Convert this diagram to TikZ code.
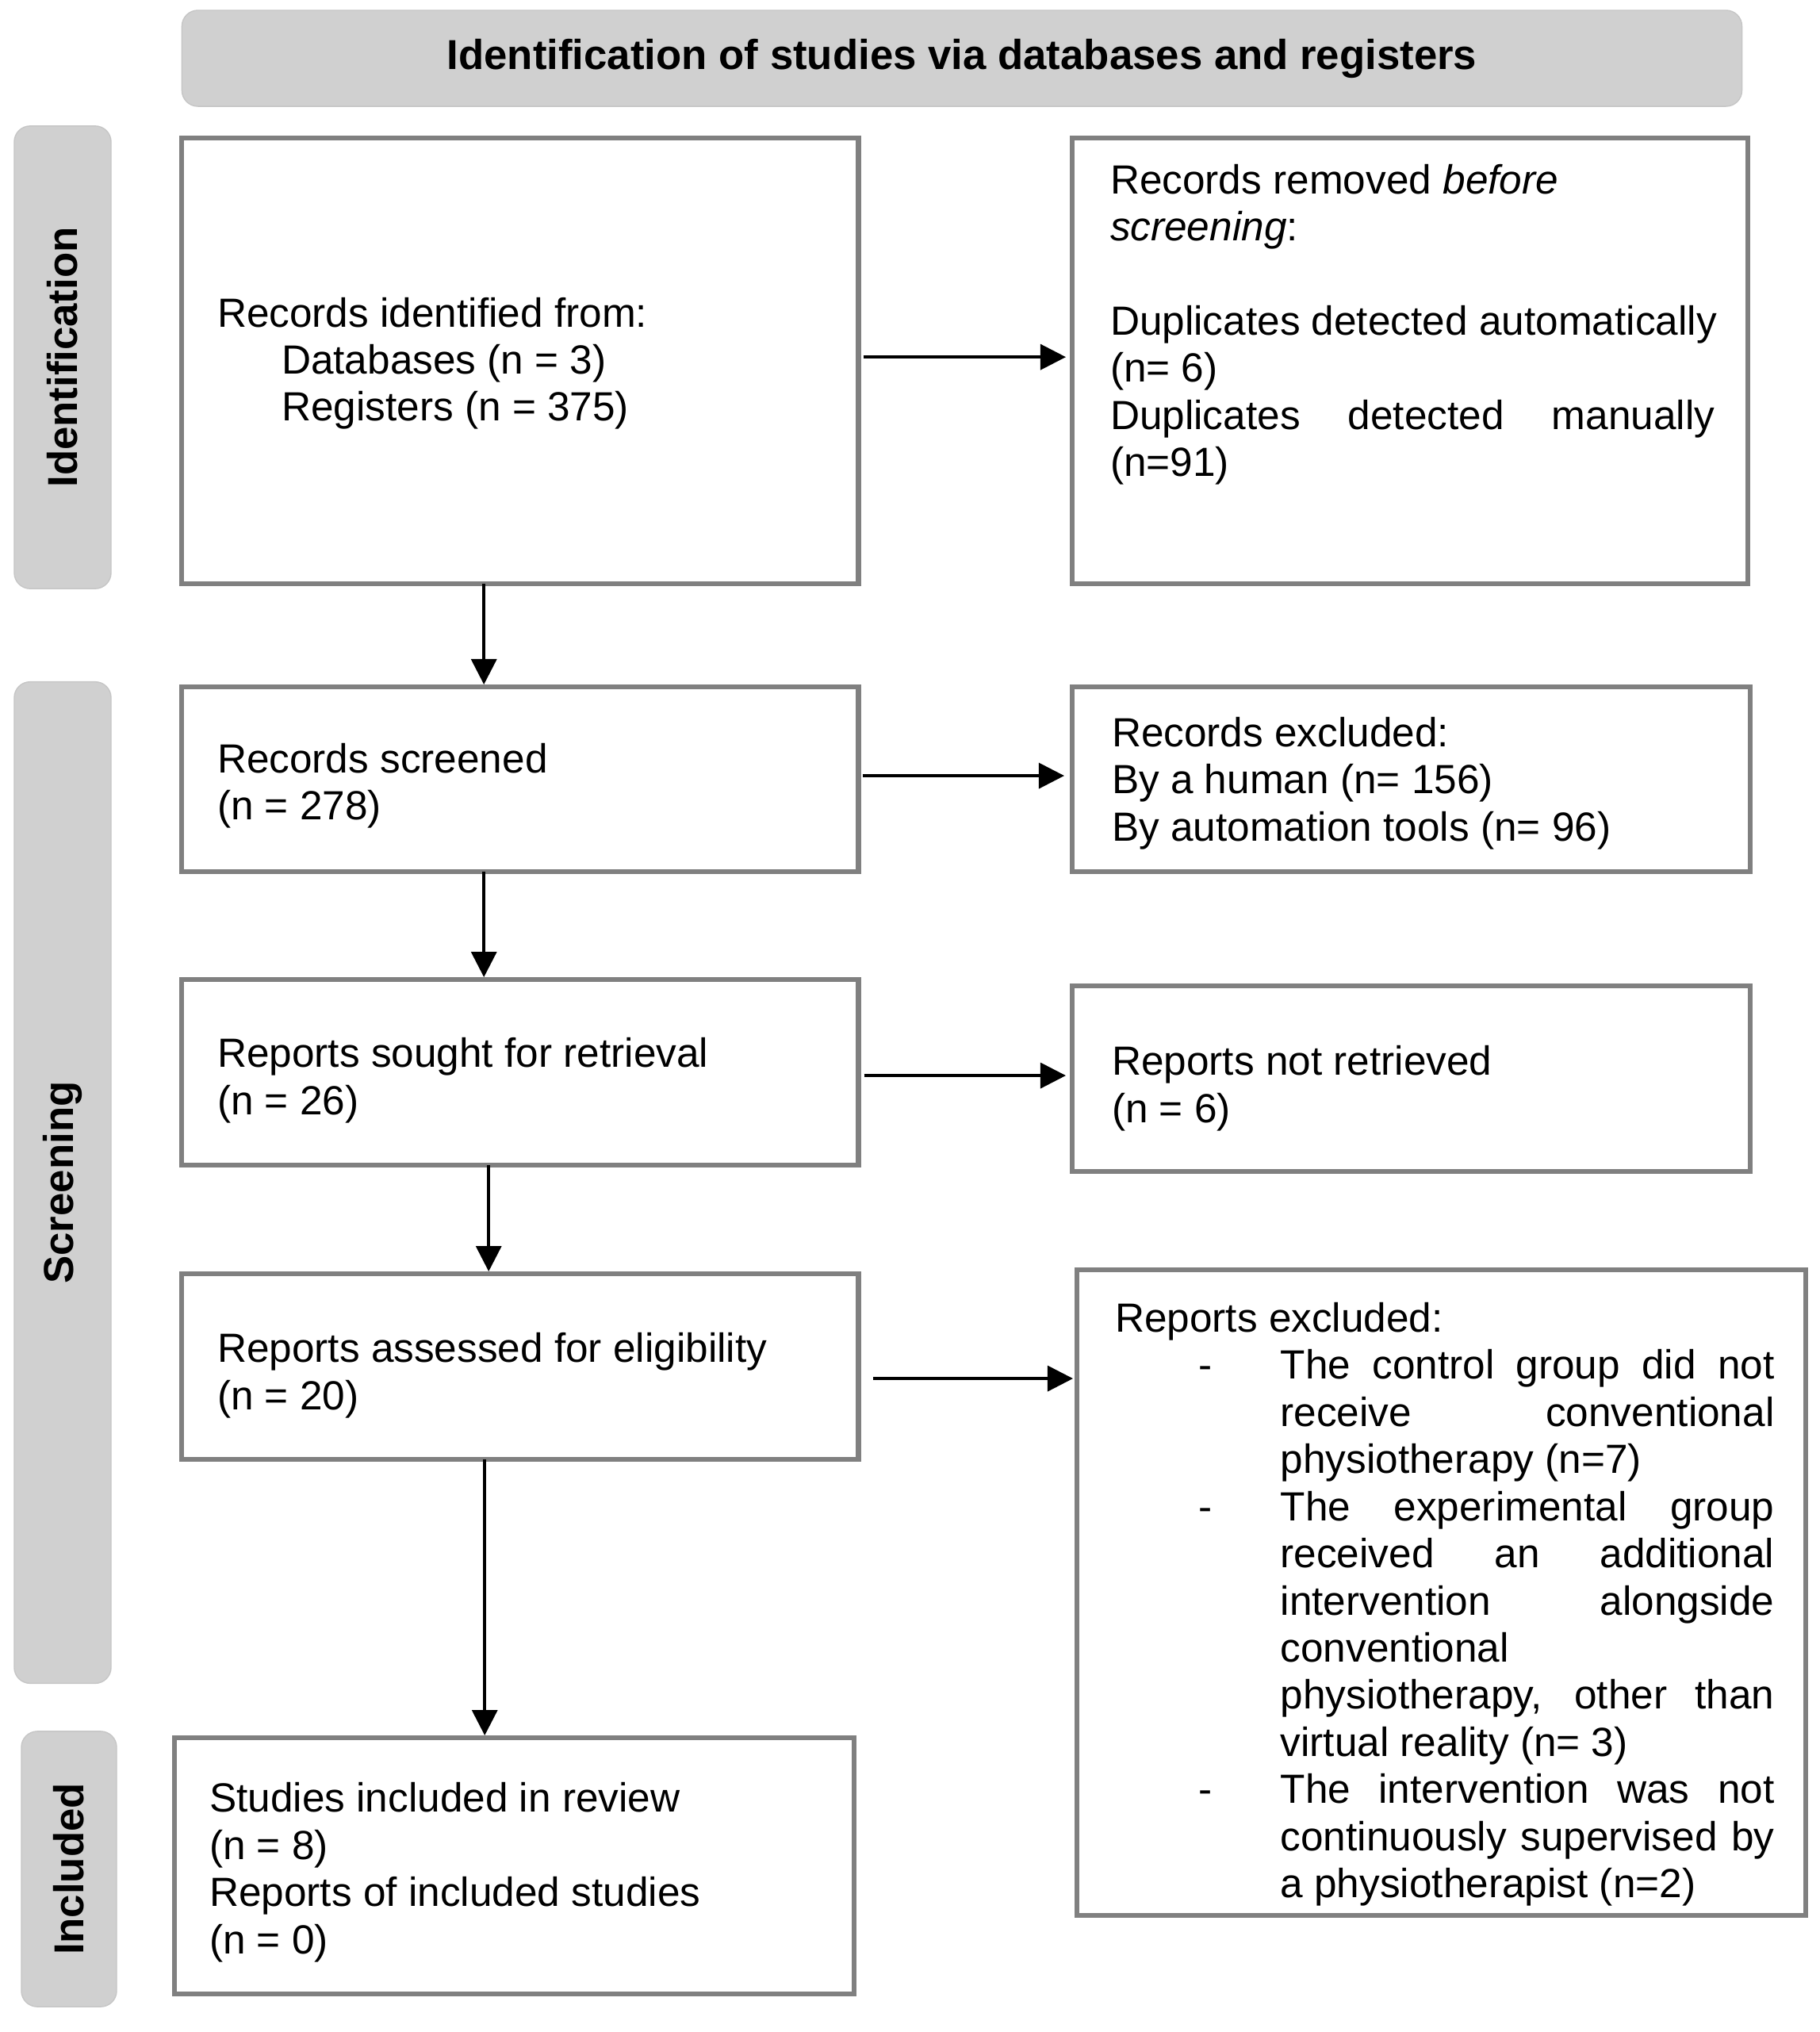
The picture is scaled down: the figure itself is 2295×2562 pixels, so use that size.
\documentclass[tikz,border=0pt]{standalone}
\usepackage{fontspec}
\setmainfont{Liberation Sans}
\usetikzlibrary{arrows.meta,calc}
\definecolor{barfill}{RGB}{208,208,208}
\definecolor{barline}{RGB}{198,198,198}
\definecolor{boxline}{RGB}{128,128,128}
\newcommand\rsp{\spaceskip=0pt\relax\xspaceskip=0pt\relax}
\newcommand\jl[2]{\makebox[#1][s]{\rsp #2}}
\begin{document}
\begin{tikzpicture}[x=0.01cm,y=-0.01cm,
  bar/.style={fill=barfill, draw=barline, line width=0.4pt, rounded corners=0.2cm, inner sep=0pt, outer sep=0pt},
  barlabel/.style={font=\fontsize{15}{18}\selectfont\bfseries},
  flowbox/.style={draw=boxline, line width=0.06cm, rectangle, inner sep=0pt, outer sep=0pt, anchor=north west},
  txt/.style={inner sep=0pt, outer sep=0pt, align=left, text width=8.1cm, font=\fontsize{14.6}{16.9}\selectfont},
  arr/.style={-{Triangle[length=0.32cm,width=0.32cm]}, line width=0.035cm, black},
]
\useasboundingbox (0,0) rectangle (2295,2562);

% grey bars
\node[bar, barlabel, minimum width=19.66cm, minimum height=1.21cm] (title) at (1213,73.5) {Identification of studies via databases and registers};
\node[bar, barlabel, rotate=90, minimum width=5.83cm, minimum height=1.22cm] (idbar) at (79,450.5) {Identification};
\node[bar, barlabel, rotate=90, minimum width=12.62cm, minimum height=1.22cm] (scbar) at (79,1491) {Screening};
\node[bar, barlabel, rotate=90, minimum width=3.47cm, minimum height=1.20cm] (inbar) at (87,2356.5) {Included};

% boxes
\node[flowbox, minimum width=8.53cm, minimum height=5.62cm] (b1) at (229,174) {};
\node[flowbox, minimum width=8.51cm, minimum height=5.62cm] (b2) at (1352,174) {};
\node[flowbox, minimum width=8.53cm, minimum height=2.33cm] (b3) at (229,866) {};
\node[flowbox, minimum width=8.54cm, minimum height=2.33cm] (b4) at (1352,866) {};
\node[flowbox, minimum width=8.53cm, minimum height=2.34cm] (b5) at (229,1235) {};
\node[flowbox, minimum width=8.54cm, minimum height=2.34cm] (b6) at (1352,1243) {};
\node[flowbox, minimum width=8.53cm, minimum height=2.34cm] (b7) at (229,1606) {};
\node[flowbox, minimum width=9.18cm, minimum height=8.13cm] (b8) at (1358,1601) {};
\node[flowbox, minimum width=8.56cm, minimum height=3.23cm] (b9) at (220,2191) {};

% texts
\node[txt, anchor=west] (t1) at ([xshift=0.45cm,yshift=-0.03cm]b1.west)
  {\rsp Records identified from:\\ \hspace*{0.81cm}Databases (n = 3)\\ \hspace*{0.81cm}Registers (n = 375)};
\node[txt, anchor=north west] (t2) at (1400,207)
  {\rsp Records removed \textit{before}\\ \textit{screening}:\\[16.9pt]
   Duplicates detected automatically\\ (n= 6)\\
   \jl{7.62cm}{Duplicates detected manually}\\ (n=91)};
\node[txt, anchor=west] (t3) at ([xshift=0.45cm,yshift=-0.08cm]b3.west)
  {\rsp Records screened\\(n = 278)};
\node[txt, anchor=west] (t4) at ([xshift=0.50cm,yshift=-0.05cm]b4.west)
  {\rsp Records excluded:\\By a human (n= 156)\\By automation tools (n= 96)};
\node[txt, anchor=west] (t5) at ([xshift=0.45cm,yshift=-0.10cm]b5.west)
  {\rsp Reports sought for retrieval\\(n = 26)};
\node[txt, anchor=west] (t6) at ([xshift=0.50cm,yshift=-0.12cm]b6.west)
  {\rsp Reports not retrieved\\(n = 6)};
\node[txt, anchor=west] (t7) at ([xshift=0.45cm,yshift=-0.11cm]b7.west)
  {\rsp Reports assessed for eligibility\\(n = 20)};
\node[txt, anchor=west, text width=8.5cm] (t8) at ([xshift=0.48cm,yshift=-0.15cm]b8.west)
  {\rsp Reports excluded:\\
   \hspace*{1.05cm}\makebox[1.035cm][l]{-}\jl{6.225cm}{The control group did not}\\
   \hspace*{2.085cm}\jl{6.225cm}{receive conventional}\\
   \hspace*{2.085cm}physiotherapy (n=7)\\
   \hspace*{1.05cm}\makebox[1.035cm][l]{-}\jl{6.225cm}{The experimental group}\\
   \hspace*{2.085cm}\jl{6.225cm}{received an additional}\\
   \hspace*{2.085cm}\jl{6.225cm}{intervention alongside}\\
   \hspace*{2.085cm}conventional\\
   \hspace*{2.085cm}\jl{6.225cm}{physiotherapy, other than}\\
   \hspace*{2.085cm}virtual reality (n= 3)\\
   \hspace*{1.05cm}\makebox[1.035cm][l]{-}\jl{6.225cm}{The intervention was not}\\
   \hspace*{2.085cm}\jl{6.225cm}{continuously supervised by}\\
   \hspace*{2.085cm}a physiotherapist (n=2)};
\node[txt, anchor=west] (t9) at ([xshift=0.44cm,yshift=-0.08cm]b9.west)
  {\rsp Studies included in review\\(n = 8)\\Reports of included studies\\(n = 0)};

% vertical arrows
\draw[arr, shorten >=0.03cm] ([xshift=-0.455cm]b1.south) -- ([xshift=-0.455cm]b3.north);
\draw[arr, shorten >=0.03cm] ([xshift=-0.455cm]b3.south) -- ([xshift=-0.455cm]b5.north);
\draw[arr, shorten >=0.03cm] ([xshift=-0.395cm]b5.south) -- ([xshift=-0.395cm]b7.north);
\draw[arr, shorten >=0.03cm] ([xshift=-0.445cm]b7.south) -- ([xshift=-0.445cm]b7.south |- b9.north);

% horizontal arrows
\draw[arr, shorten <=0.06cm, shorten >=0.08cm] ([yshift=0.05cm]b1.east) -- ([yshift=0.05cm]b1.east -| b2.west);
\draw[arr, shorten <=0.05cm, shorten >=0.1cm] ([yshift=0.045cm]b3.east) -- ([yshift=0.045cm]b3.east -| b4.west);
\draw[arr, shorten <=0.07cm, shorten >=0.08cm] ([yshift=-0.04cm]b5.east) -- ([yshift=-0.04cm]b5.east -| b6.west);
\draw[arr, shorten <=0.18cm, shorten >=0.05cm] ([yshift=-0.15cm]b7.east) -- ([yshift=-0.15cm]b7.east -| b8.west);
\end{tikzpicture}
\end{document}
